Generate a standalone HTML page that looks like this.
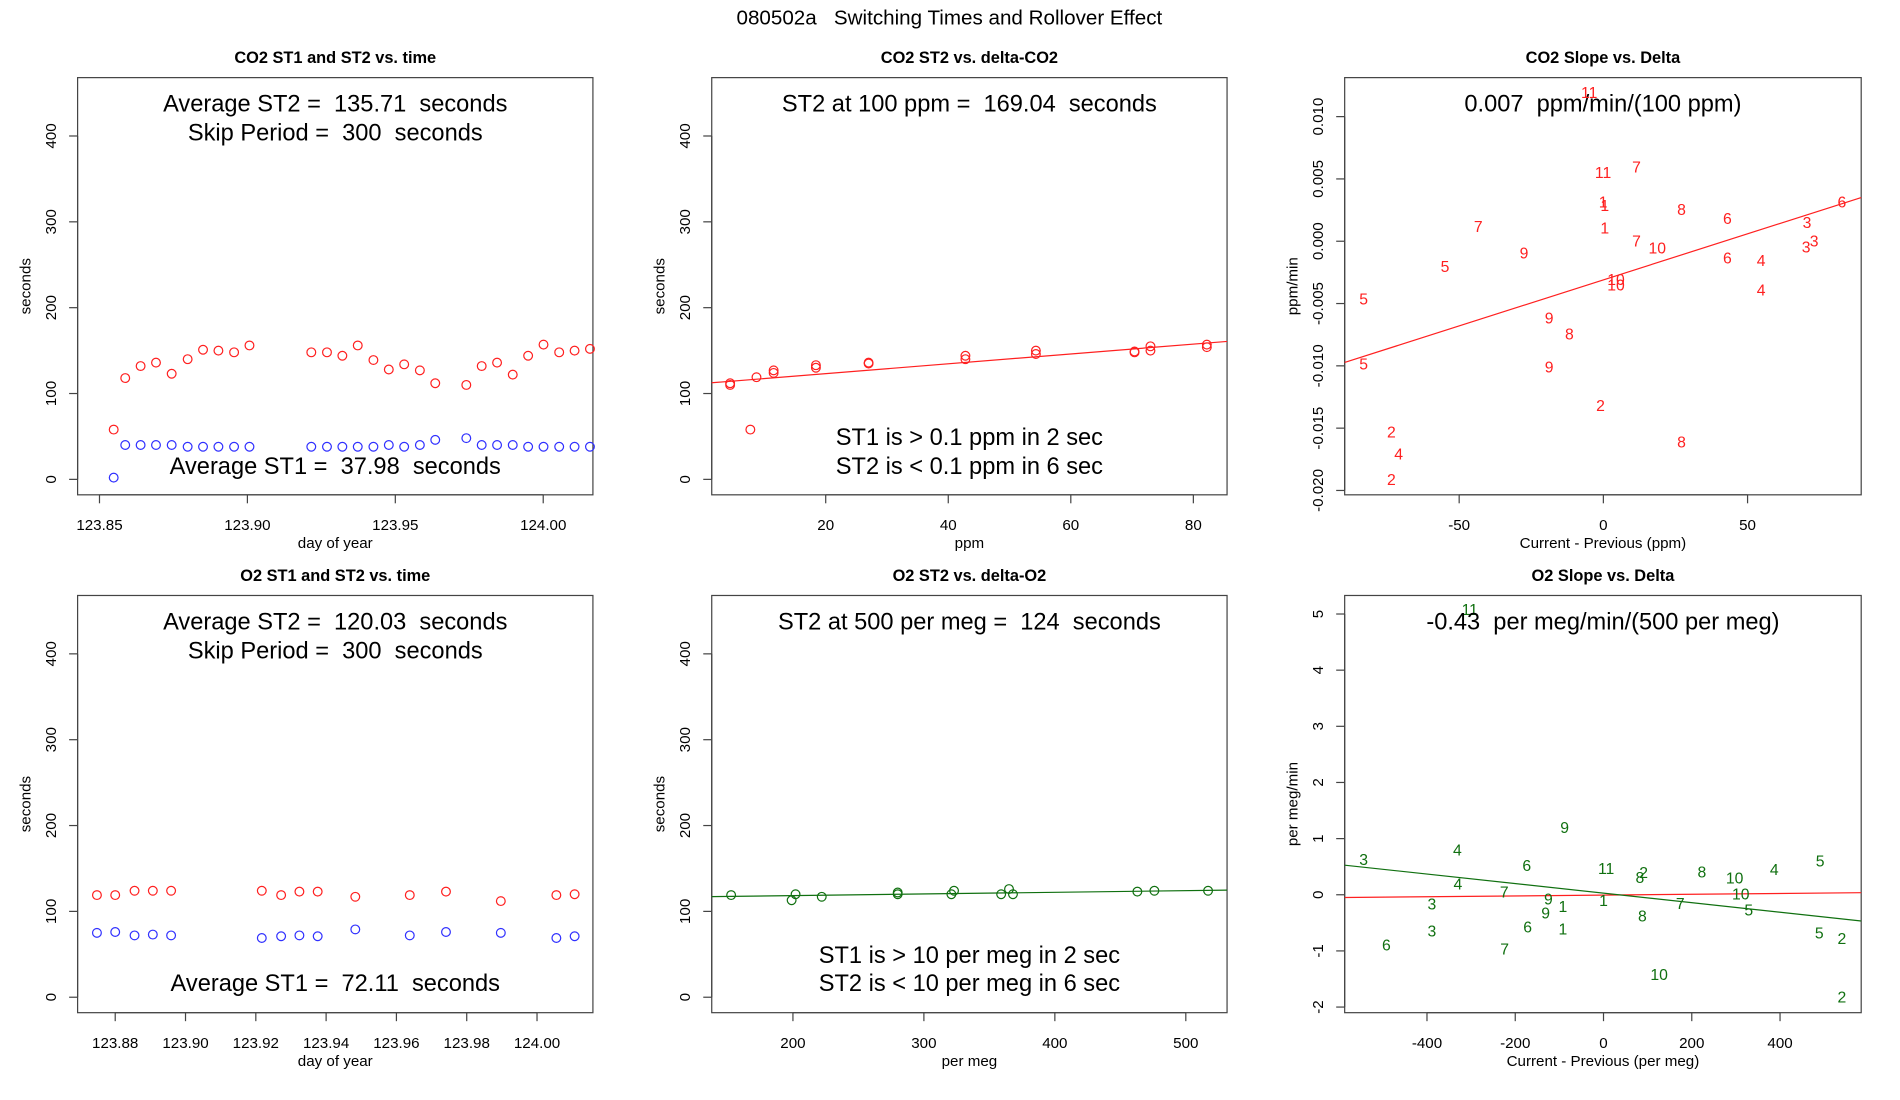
<!DOCTYPE html>
<html><head><meta charset="utf-8"><style>
html,body{margin:0;padding:0;background:#fff;}
svg{display:block;font-family:"Liberation Sans",sans-serif;}
svg text{white-space:pre;}
</style></head><body>
<svg id="chart" xmlns="http://www.w3.org/2000/svg" width="1900" height="1100" viewBox="0 0 1567 907" preserveAspectRatio="none" xml:space="preserve">
<text x="783" y="20" text-anchor="middle" font-size="17">080502a   Switching Times and Rollover Effect</text>
</svg>
<script>
// ---- Panel 1: CO2 ST1/ST2 vs time ----
const co2Days = [123.8548,123.8587,123.8639,123.8691,123.8744,123.8798,123.8850,123.8902,123.8955,123.9007,123.9216,123.9269,123.9321,123.9373,123.9426,123.9478,123.9530,123.9583,123.9635,123.9740,123.9792,123.9844,123.9897,123.9949,124.0001,124.0054,124.0106,124.0158];
const co2ST2 = [58,118,132,136,123,140,151,150,148,156,148,148,144,156,139,128,134,127,112,110,132,136,122,144,157,148,150,152];
const co2ST1 = [2,40,40,40,40,38,38,38,38,38,38,38,38,38,38,40,38,40,46,48,40,40,40,38,38,38,38,38];
const timeTicks1 = [123.85,123.90,123.95,124.00];
const secTicks = [0,100,200,300,400];
// ---- Panel 2: CO2 ST2 vs delta ----
const co2Delta = [4.4,4.4,7.7,8.7,11.5,11.5,18.4,18.4,27,27,42.8,42.8,54.3,54.3,70.4,70.4,73,73,82.2,82.2];
const co2DeltaST2 = [110,112,58,119,127,124,133,130,136,135,144,140,150,146,149,148,155,150,157,154];
const co2Fit = [111.7,0.573];
const ppmTicks = [20,40,60,80];
// ---- Panel 3: CO2 slope vs delta ----
const co2SlopeX = [-4.9,-0.1,11.5,-0.1,0.5,0.5,27.1,43,82.7,70.6,73.1,70.3,-43.4,11.5,18.7,-27.5,-54.9,43,54.7,54.7,4.4,4.4,-83.1,-18.8,-11.8,-83.1,-18.8,-1,-73.5,27.1,-71,-73.5];
const co2SlopeY = [0.01187,0.00545,0.00586,0.00305,0.00278,0.00099,0.00246,0.00176,0.00305,0.00144,-0.00005,-0.00056,0.00112,-0.00008,-0.00064,-0.00104,-0.00209,-0.00144,-0.00163,-0.00398,-0.00316,-0.00358,-0.00471,-0.00626,-0.00751,-0.00992,-0.01019,-0.01326,-0.0154,-0.0162,-0.01717,-0.0192];
const co2SlopeLbl = ["11","11","7","1","1","1","8","6","6","3","3","3","7","7","10","9","5","6","4","4","10","10","5","9","8","5","9","2","2","8","4","2"];
const co2SlopeFit = [-0.0031,0.0000739];
const co2SlopeXTicks = [-50,0,50];
const co2SlopeYTicks = [-0.020,-0.015,-0.010,-0.005,0.000,0.005,0.010];
// ---- Panel 4: O2 ST1/ST2 vs time ----
const o2Days = [123.8748,123.88,123.8855,123.8907,123.8959,123.9217,123.9272,123.9324,123.9376,123.9483,123.9638,123.9741,123.9897,124.0055,124.0107];
const o2ST2 = [119,119,124,124,124,124,119,123,123,117,119,123,112,119,120];
const o2ST1 = [75,76,72,73,72,69,71,72,71,79,72,76,75,69,71];
const timeTicks2 = [123.88,123.90,123.92,123.94,123.96,123.98,124.00];
// ---- Panel 5: O2 ST2 vs delta ----
const o2Delta = [152.8,199,202,222,280,280,321,323,359,365,368,463,476,517];
const o2DeltaST2 = [119,113,120,117,122,120,120,124,120,126,120,123,124,124];
const o2Fit = [114.5,0.0193];
const megTicks = [200,300,400,500];
// ---- Panel 6: O2 slope vs delta ----
const o2SlopeX = [-303,-543.5,-331,-174,-88,6,91,82.5,223,297,387,491,-330,-225,-389,-125,-131,-92,0,174,311,329,88,-389,-172,-92,-492,-224,489,540,126,540];
const o2SlopeY = [5.06,0.61,0.78,0.50,1.18,0.45,0.38,0.29,0.39,0.28,0.43,0.58,0.17,0.03,-0.18,-0.09,-0.34,-0.23,-0.12,-0.17,0,-0.29,-0.40,-0.66,-0.59,-0.63,-0.91,-0.98,-0.70,-0.80,-1.44,-1.84];
const o2SlopeLbl = ["11","3","4","6","9","11","2","8","8","10","4","5","4","7","3","9","9","1","1","7","10","5","8","3","6","1","6","7","5","2","10","2"];
const o2SlopeFit = [0.029,-0.000849];
const o2RedFit = [-0.006,0.0000735];
const o2SlopeXTicks = [-400,-200,0,200,400];
const o2SlopeYTicks = [-2,-1,0,1,2,3,4,5];

const NS = "http://www.w3.org/2000/svg";
const svg = document.getElementById('chart');
function mk(tag, attrs, parent, txt){
  const e = document.createElementNS(NS, tag);
  for (const k in attrs) e.setAttribute(k, attrs[k]);
  if (txt !== undefined) e.textContent = txt;
  (parent||svg).appendChild(e);
  return e;
}
function panel(o){
  const g = mk('g', {});
  
  
  const [x0,x1,y0,y1] = o.box;
  const sx = v => x0 + (v - o.xd[0])/(o.xd[1]-o.xd[0])*(x1-x0);
  const sy = v => y1 - (v - o.yd[0])/(o.yd[1]-o.yd[0])*(y1-y0);
  const t = mk('text', {x:(x0+x1)/2, y:y0-12, 'text-anchor':'middle','font-size':13.5,'font-weight':'bold'}, g, o.title);
  
  
  const r = mk('rect', {x:x0,y:y0,width:x1-x0,height:y1-y0,fill:'none',stroke:'#444','stroke-width':1}, g);
  
  
  const xa = mk('g', {}, g);
  
  
  mk('line', {x1:sx(o.xt[0]),x2:sx(o.xt[o.xt.length-1]),y1:y1,y2:y1,stroke:'#444'}, xa);
  o.xt.forEach(v=>{
    mk('line',{x1:sx(v),x2:sx(v),y1:y1,y2:y1+7,stroke:'#444'},xa);
    const l = mk('text',{x:sx(v),y:y1+29,'text-anchor':'middle','font-size':12.5},xa,o.xf(v));
    
    
  });
  const xl = mk('text',{x:(x0+x1)/2,y:y1+44,'text-anchor':'middle','font-size':12.5},g,o.xl);
  
  
  const ya = mk('g', {}, g);
  
  
  mk('line', {x1:x0,x2:x0,y1:sy(o.yt[0]),y2:sy(o.yt[o.yt.length-1]),stroke:'#444'}, ya);
  o.yt.forEach(v=>{
    mk('line',{x1:x0-7,x2:x0,y1:sy(v),y2:sy(v),stroke:'#444'},ya);
    const l = mk('text',{x:0,y:0,'text-anchor':'middle','font-size':12.5,transform:`translate(${x0-18},${sy(v)}) rotate(-90)`},ya,o.yf(v));
    
    
  });
  const yl = mk('text',{x:0,y:0,'text-anchor':'middle','font-size':12.5,transform:`translate(${x0-39},${(y0+y1)/2}) rotate(-90)`},g,o.yl);
  
  
  return {g,sx,sy,box:o.box};
}
function annot(p, txt, y){
  const [x0,x1] = p.box;
  const a = mk('text',{x:(x0+x1)/2,y:y,'text-anchor':'middle','font-size':19.5},p.g,txt);
  
  
}
function circles(p, xs, ys, color, name){
  xs.forEach((x,i)=>{
    const c = mk('circle',{cx:p.sx(x),cy:p.sy(ys[i]),r:3.6,fill:'none',stroke:color,'stroke-width':1},p.g);
    
    
  });
}
function labels(p, xs, ys, ls, color, name){
  xs.forEach((x,i)=>{
    const c = mk('text',{x:p.sx(x),y:p.sy(ys[i]),'text-anchor':'middle','dominant-baseline':'central','font-size':13,fill:color},p.g,ls[i]);
    
    
  });
}
function fitline(p, fit, xd, color, name){
  const ln = mk('line',{x1:p.sx(xd[0]),y1:p.sy(fit[0]+fit[1]*xd[0]),x2:p.sx(xd[1]),y2:p.sy(fit[0]+fit[1]*xd[1]),stroke:color,'stroke-width':1},p.g);
  
  
}
const yd = [-18,468];
const f2 = v=>v.toFixed(2), f0 = v=>String(v), f3 = v=>v.toFixed(3);

const p1 = panel({name:'co2-time-panel',box:[64,489,64,408],xd:[123.8426,124.0168],yd,xt:timeTicks1,yt:secTicks,xf:f2,yf:f0,title:'CO2 ST1 and ST2 vs. time',xl:'day of year',yl:'seconds'});
annot(p1,'Average ST2 =  135.71  seconds',92);
annot(p1,'Skip Period =  300  seconds',116);
annot(p1,'Average ST1 =  37.98  seconds',391);
circles(p1,co2Days,co2ST2,'#ff2020','st2-point');
circles(p1,co2Days,co2ST1,'#3030ff','st1-point');

const p2 = panel({name:'co2-delta-panel',box:[587,1012,64,408],xd:[1.4,85.5],yd,xt:ppmTicks,yt:secTicks,xf:f0,yf:f0,title:'CO2 ST2 vs. delta-CO2',xl:'ppm',yl:'seconds'});
annot(p2,'ST2 at 100 ppm =  169.04  seconds',92);
annot(p2,'ST1 is > 0.1 ppm in 2 sec',367);
annot(p2,'ST2 is < 0.1 ppm in 6 sec',391);
circles(p2,co2Delta,co2DeltaST2,'#ff2020','st2-delta-point');
fitline(p2,co2Fit,[1.4,85.5],'#ff2020','fit-line');

const p3 = panel({name:'co2-slope-panel',box:[1109,1535,64,408],xd:[-89.7,89.4],yd:[-0.02035,0.01313],xt:co2SlopeXTicks,yt:co2SlopeYTicks,xf:f0,yf:f3,title:'CO2 Slope vs. Delta',xl:'Current - Previous (ppm)',yl:'ppm/min'});
annot(p3,'0.007  ppm/min/(100 ppm)',92);
labels(p3,co2SlopeX,co2SlopeY,co2SlopeLbl,'#ff2020','slope-label');
fitline(p3,co2SlopeFit,[-89.7,89.4],'#ff2020','fit-line');

const p4 = panel({name:'o2-time-panel',box:[64,489,491,835],xd:[123.8693,124.0159],yd,xt:timeTicks2,yt:secTicks,xf:f2,yf:f0,title:'O2 ST1 and ST2 vs. time',xl:'day of year',yl:'seconds'});
annot(p4,'Average ST2 =  120.03  seconds',519);
annot(p4,'Skip Period =  300  seconds',543);
annot(p4,'Average ST1 =  72.11  seconds',817);
circles(p4,o2Days,o2ST2,'#ff2020','st2-point');
circles(p4,o2Days,o2ST1,'#3030ff','st1-point');

const p5 = panel({name:'o2-delta-panel',box:[587,1012,491,835],xd:[138,531.5],yd,xt:megTicks,yt:secTicks,xf:f0,yf:f0,title:'O2 ST2 vs. delta-O2',xl:'per meg',yl:'seconds'});
annot(p5,'ST2 at 500 per meg =  124  seconds',519);
annot(p5,'ST1 is > 10 per meg in 2 sec',794);
annot(p5,'ST2 is < 10 per meg in 6 sec',817);
circles(p5,o2Delta,o2DeltaST2,'#107010','st2-delta-point');
fitline(p5,o2Fit,[138,531.5],'#107010','fit-line');

const p6 = panel({name:'o2-slope-panel',box:[1109,1535,491,835],xd:[-586.5,583.9],yd:[-2.10,5.33],xt:o2SlopeXTicks,yt:o2SlopeYTicks,xf:f0,yf:f0,title:'O2 Slope vs. Delta',xl:'Current - Previous (per meg)',yl:'per meg/min'});
fitline(p6,o2RedFit,[-586.5,583.9],'#ff2020','red-fit-line');
fitline(p6,o2SlopeFit,[-586.5,583.9],'#107010','green-fit-line');
labels(p6,o2SlopeX,o2SlopeY,o2SlopeLbl,'#107010','slope-label');
annot(p6,'-0.43  per meg/min/(500 per meg)',519);
</script>
</body></html>
